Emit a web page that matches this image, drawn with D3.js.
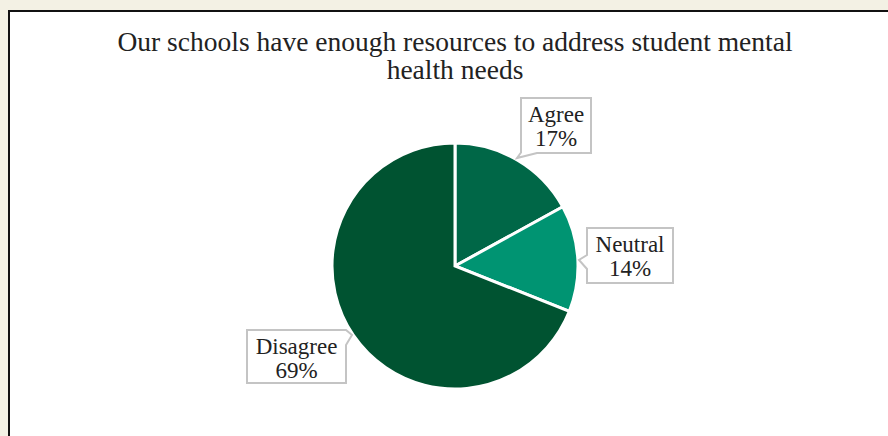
<!DOCTYPE html>
<html>
<head>
<meta charset="utf-8">
<script src="https://cdn.jsdelivr.net/npm/d3@7"></script>
<style>
  html, body { margin: 0; padding: 0; background: #f3f1e4; }
  svg { display: block; }
</style>
</head>
<body>
<svg id="chart" width="888" height="436"></svg>
<script>
// Survey responses
const categories = ["Agree", "Neutral", "Disagree"];
const percents = [17, 14, 69];
const sliceColors = ["#006747", "#009472", "#005331"];
const titleLines = ["Our schools have enough resources to address student mental", "health needs"];

// Callout box geometry (box rectangle + pointer side)
const calloutLayout = [
  { x: 521, y: 98, w: 70, h: 55, pointer: "bottom-left" },
  { x: 587, y: 228, w: 86, h: 55, pointer: "left" },
  { x: 247, y: 330, w: 99, h: 53, pointer: "right-top" }
];

const svg = d3.select("#chart");
const W = 888, H = 436;
const cx = 455, cy = 266, R = 123;
const serif = "'Liberation Serif', 'DejaVu Serif', serif";

// Panel
svg.append("rect")
  .attr("x", 9).attr("y", 11)
  .attr("width", W + 20).attr("height", H + 20)
  .attr("fill", "#ffffff")
  .attr("stroke", "#111").attr("stroke-width", 2);

// Title
svg.append("text")
  .attr("x", cx).attr("text-anchor", "middle")
  .attr("font-family", serif).attr("font-size", 27.5).attr("fill", "#222")
  .selectAll("tspan").data(titleLines).join("tspan")
  .attr("x", cx)
  .attr("y", (d, i) => 51 + i * 28)
  .text(d => d);

// Pie
const data = categories.map((c, i) => ({ cat: c, value: percents[i], color: sliceColors[i] }));
const pie = d3.pie().value(d => d.value).sort(null);
const arc = d3.arc().innerRadius(0).outerRadius(R);

const g = svg.append("g").attr("transform", `translate(${cx},${cy})`);
g.selectAll("path").data(pie(data)).join("path")
  .attr("d", arc)
  .attr("fill", d => d.data.color)
  .attr("stroke", "#ffffff")
  .attr("stroke-width", 3)
  .attr("stroke-linejoin", "miter");

// Callout shapes
function calloutPath(b) {
  const x0 = b.x, y0 = b.y, x1 = b.x + b.w, y1 = b.y + b.h;
  const p = d3.path();
  if (b.pointer === "bottom-left") {
    p.moveTo(x0, y0); p.lineTo(x1, y0); p.lineTo(x1, y1);
    p.lineTo(x0 + 16, y1); p.lineTo(x0 - 4, y1 + 5); p.lineTo(x0, y1 - 0.5);
    p.closePath();
  } else if (b.pointer === "left") {
    p.moveTo(x0, y0); p.lineTo(x1, y0); p.lineTo(x1, y1); p.lineTo(x0, y1);
    p.lineTo(x0, y0 + 41); p.lineTo(x0 - 8, y0 + 32); p.lineTo(x0, y0 + 27);
    p.closePath();
  } else {
    p.moveTo(x0, y0); p.lineTo(x1, y0); p.lineTo(x1 + 6, y0 + 5);
    p.lineTo(x1, y0 + 15); p.lineTo(x1, y1); p.lineTo(x0, y1);
    p.closePath();
  }
  return p.toString();
}

const labels = svg.append("g");
data.forEach((d, i) => {
  const b = calloutLayout[i];
  labels.append("path")
    .attr("d", calloutPath(b))
    .attr("fill", "#ffffff")
    .attr("stroke", "#c4c4c4")
    .attr("stroke-width", 2)
    .attr("stroke-linejoin", "miter");
  const t = labels.append("text")
    .attr("text-anchor", "middle")
    .attr("font-family", serif).attr("font-size", 23).attr("fill", "#222");
  const mx = b.x + b.w / 2;
  t.append("tspan").attr("x", mx).attr("y", b.y + 24).text(d.cat);
  t.append("tspan").attr("x", mx).attr("y", b.y + 48).text(d.value + "%");
});
</script>
</body>
</html>
